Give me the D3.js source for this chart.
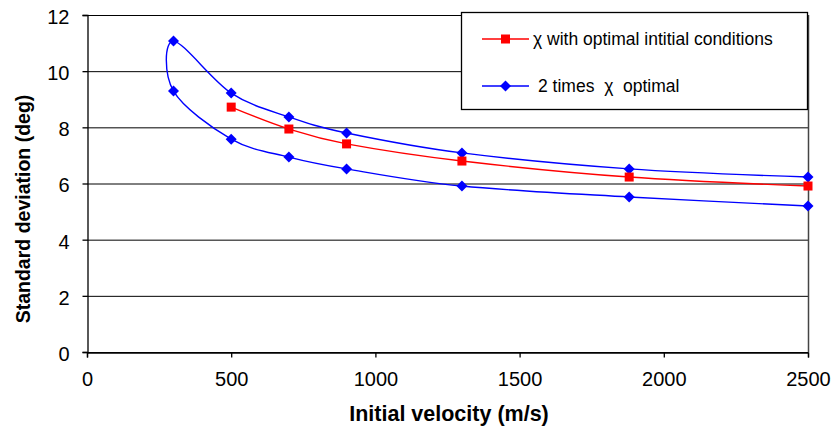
<!DOCTYPE html>
<html>
<head>
<meta charset="utf-8">
<script src="https://cdn.jsdelivr.net/npm/d3@7"></script>
<style>
  body { margin: 0; background: #fff; }
  text { font-family: Arial, "Liberation Sans", sans-serif; }
</style>
</head>
<body>
<script>
// data
var blueVelocity = [2500, 1880, 1300, 900, 700, 500, 300, 300, 500, 700, 900, 1300, 1880, 2500];
var blueStd = [5.2, 5.52, 5.91, 6.52, 6.94, 7.58, 9.29, 11.07, 9.22, 8.37, 7.8, 7.09, 6.52, 6.23];
var redVelocity = [500, 700, 900, 1300, 1880, 2500];
var redStd = [8.72, 7.94, 7.41, 6.8, 6.23, 5.91];
var xTicks = [0, 500, 1000, 1500, 2000, 2500];
var yTicks = [0, 2, 4, 6, 8, 10, 12];
var legendNames = ["\u03C7 with optimal intitial conditions", "2 times  \u03C7  optimal"];

var w = 831, h = 433;
var plotLeft = 87, plotRight = 808, plotTop = 15, plotBottom = 352;

var svg = d3.select("body").append("svg")
    .attr("width", w)
    .attr("height", h);

var x = d3.scaleLinear().domain([0, 2500]).range([plotLeft, plotRight]);
var y = d3.scaleLinear().domain([0, 12]).range([plotBottom, plotTop]);

// gridlines
svg.selectAll(".grid")
   .data(yTicks)
   .enter().append("line")
   .attr("x1", plotLeft).attr("x2", plotRight)
   .attr("y1", function(d){ return y(d) + 0.5; })
   .attr("y2", function(d){ return y(d) + 0.5; })
   .attr("stroke", "#000")
   .attr("stroke-width", 1);

// right border of plot
svg.append("line")
   .attr("x1", plotRight + 0.5).attr("x2", plotRight + 0.5)
   .attr("y1", plotTop).attr("y2", plotBottom)
   .attr("stroke", "#444")
   .attr("stroke-width", 1.5);

var xAxis = d3.axisBottom(x).tickValues(xTicks).tickSize(5).tickPadding(14).tickFormat(d3.format("d"));
var yAxis = d3.axisLeft(y).tickValues(yTicks).tickSize(5).tickPadding(13).tickFormat(d3.format("d"));

var gx = svg.append("g")
   .attr("transform", "translate(0," + (plotBottom + 0.5) + ")")
   .call(xAxis);
var gy = svg.append("g")
   .attr("transform", "translate(" + (plotLeft + 0.5) + ",0)")
   .call(yAxis);

[gx, gy].forEach(function(g){
    g.attr("font-size", null).attr("font-family", null);
    g.selectAll("path, line").attr("stroke", "#000").attr("stroke-width", 1.3);
    g.selectAll("text").attr("fill", "#000").style("font-size", "20px");
});
gy.selectAll("text").attr("dy", "0.42em");

// axis titles
svg.append("text")
   .attr("x", 449).attr("y", 421)
   .attr("text-anchor", "middle")
   .style("font-size", "21.5px").style("font-weight", "bold")
   .text("Initial velocity (m/s)");

svg.append("text")
   .attr("transform", "translate(30," + 209 + ") rotate(-90)")
   .attr("text-anchor", "middle")
   .style("font-size", "19.5px").style("font-weight", "bold")
   .text("Standard deviation (deg)");

// series
var line = d3.line()
    .x(function(d){ return x(d[0]); })
    .y(function(d){ return y(d[1]); })
    .curve(d3.curveCardinal.tension(0));

var bluePts = blueVelocity.map(function(v, i){ return [v, blueStd[i]]; });
var redPts = redVelocity.map(function(v, i){ return [v, redStd[i]]; });

svg.append("path").datum(bluePts)
   .attr("d", line).attr("fill", "none")
   .attr("stroke", "#0000ff").attr("stroke-width", 1.4);
svg.append("path").datum(redPts)
   .attr("d", line).attr("fill", "none")
   .attr("stroke", "#ff0000").attr("stroke-width", 1.4);

svg.selectAll(".bm").data(bluePts).enter().append("path")
   .attr("d", "M0,-5.5L5.5,0L0,5.5L-5.5,0Z")
   .attr("transform", function(d){ return "translate(" + x(d[0]) + "," + y(d[1]) + ")"; })
   .attr("fill", "#0000ff");

svg.selectAll(".rm").data(redPts).enter().append("rect")
   .attr("x", function(d){ return x(d[0]) - 4.5; })
   .attr("y", function(d){ return y(d[1]) - 4.5; })
   .attr("width", 9).attr("height", 9)
   .attr("fill", "#ff0000");

// legend
var lg = svg.append("g");
lg.append("rect")
  .attr("x", 461.5).attr("y", 12.5)
  .attr("width", 346).attr("height", 97)
  .attr("fill", "#fff").attr("stroke", "#000").attr("stroke-width", 1.3);

var legendColors = ["#ff0000", "#0000ff"];
var legendY = [39, 86];
legendNames.forEach(function(name, i){
    lg.append("line")
      .attr("x1", 482).attr("x2", 529)
      .attr("y1", legendY[i]).attr("y2", legendY[i])
      .attr("stroke", legendColors[i]).attr("stroke-width", 1.4);
    if(i == 0){
        lg.append("rect")
          .attr("x", 505.5 - 4.5).attr("y", legendY[i] - 4.5)
          .attr("width", 9).attr("height", 9)
          .attr("fill", legendColors[i]);
    } else {
        lg.append("path")
          .attr("d", "M0,-5.5L5.5,0L0,5.5L-5.5,0Z")
          .attr("transform", "translate(505.5," + legendY[i] + ")")
          .attr("fill", legendColors[i]);
    }
    lg.append("text")
      .attr("x", i == 0 ? 533 : 538).attr("y", legendY[i] + 6)
      .style("font-size", "17.5px")
      .style("white-space", "pre")
      .attr("fill", "#000")
      .text(name);
});
</script>
</body>
</html>
